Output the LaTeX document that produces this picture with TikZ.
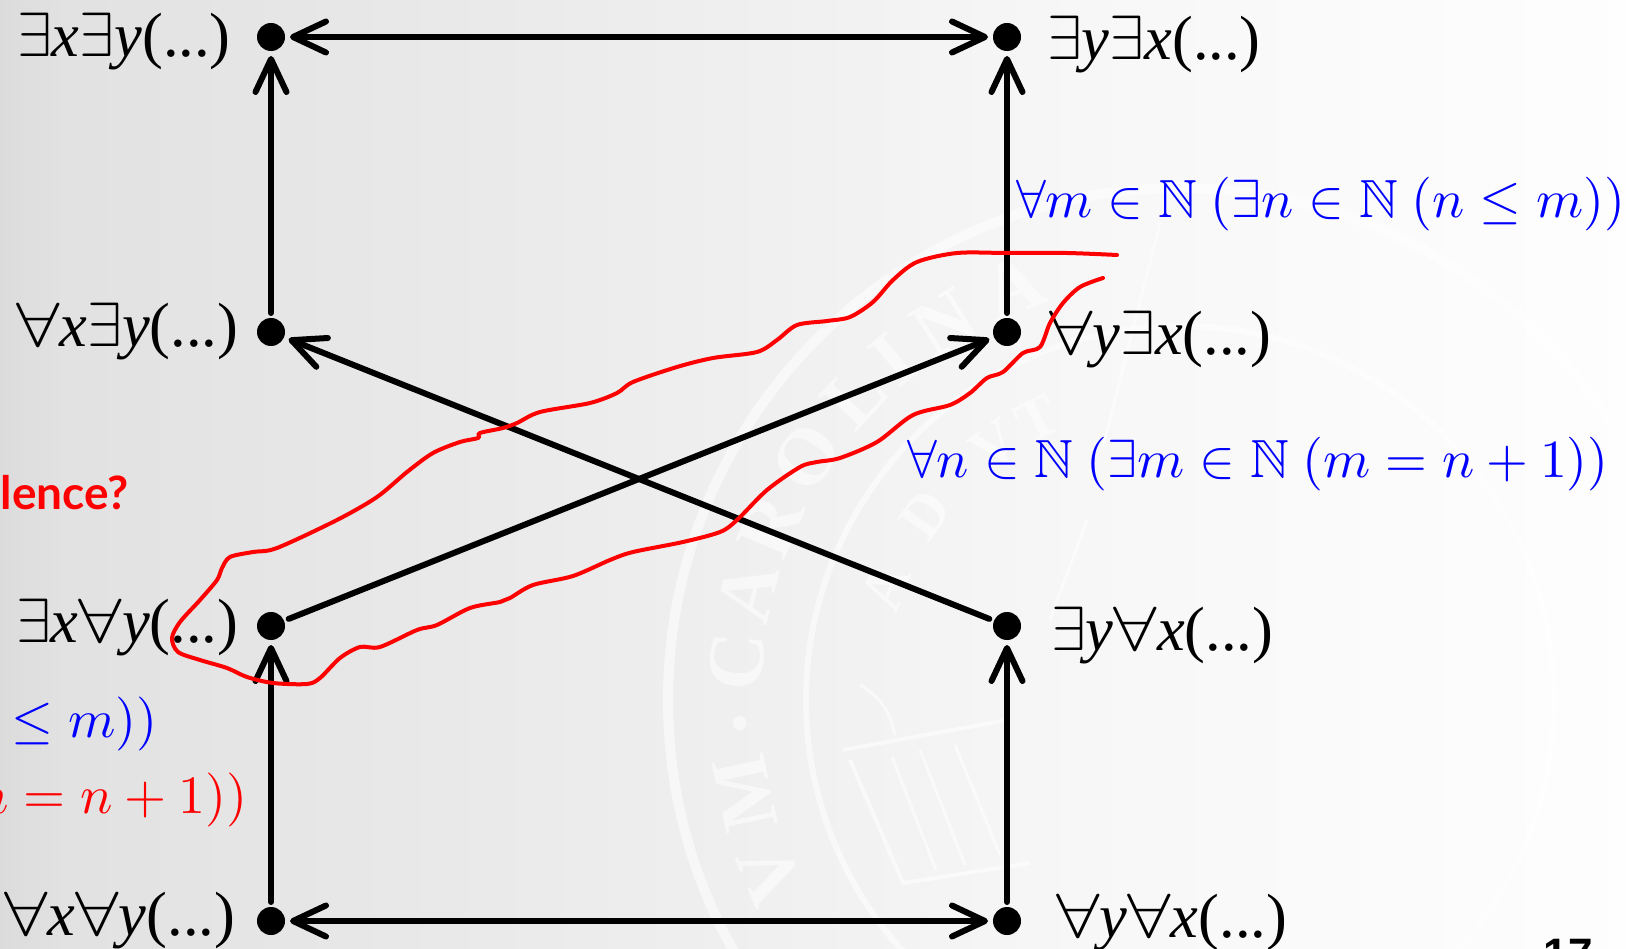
\documentclass[tikz,border=0pt]{standalone}
\usepackage[no-math]{fontspec}
\usepackage{amssymb}
\usepackage{graphicx}
\setmainfont{Liberation Serif}
\newfontfamily\quantfont{Liberation Serif}
\newfontfamily\remarkfont{Lato}
\newfontfamily\pagefont{Liberation Sans}
\usetikzlibrary{arrows.meta}
\newcommand{\qall}{\scalebox{1.25}[1]{$\forall$}}
\newcommand{\qex}{$\exists$}
\pgfdeclarehorizontalshading{slidebg}{100bp}{
  color(0bp)=(black!14);
  color(25bp)=(black!14);
  color(26.9bp)=(black!11.5);
  color(37.3bp)=(black!9);
  color(46.5bp)=(black!6.5);
  color(58.8bp)=(black!3);
  color(75bp)=(black!0.5);
  color(100bp)=(black!0.5)}
\tikzset{
  dotpt/.style={circle,fill=black,minimum size=28pt,inner sep=0pt,outer sep=5pt},
  quant/.style={anchor=base west,inner sep=0pt,scale=6.25,font=\quantfont},
  formula/.style={anchor=base west,inner sep=0pt,scale=5.37,text=blue},
  cutoff/.style={anchor=base east,inner sep=0pt,scale=5.4},
  sealline/.style={draw=white,opacity=0.55},
  sealletter/.style={inner sep=0pt,text=white,opacity=0.55,font=\quantfont\bfseries},
  link/.style={line width=6pt,line cap=round,>={Straight Barb[length=33pt,width=31pt,round]}},
  lasso/.style={draw=red,line width=4pt,line cap=round}
}
\begin{document}
\begin{tikzpicture}[x=1pt,y=-1pt]
        \useasboundingbox (0,0) rectangle (1626,949);
        \shade [shading=slidebg] (0,0) rectangle (1626,949);
        \begin{scope}
            \clip (0,0) rectangle (1626,949);
            \begin{scope}[shift={(1180,700)}]
                \draw [sealline,line width=10pt] (0,0) circle (512);
                \draw [sealline,line width=6pt] (0,0) circle (374);
                \fill [white,opacity=0.55] (177:441) circle (7);
                \foreach \a/\t in {157/V,168/M,185/C,194/A,203/R,213/O,223/L,230/I,238/N,248/A}
                    {\node [sealletter,scale=8,rotate=270-\a] at (\a:445) {\t};}
                \foreach \a/\t in {201/A,216/D,234/V,243/T}
                    {\node [sealletter,scale=6,rotate=270-\a] at (\a:315) {\t};}
            \end{scope}
            \draw [sealline,line width=4pt] (850,760) -- (903,883) -- (1030,863);
            \draw [sealline,line width=4pt] (843,750) -- (1007,720);
            \draw [sealline,line width=3pt] (860,685) .. controls (885,700) and (890,715) .. (895,735);
            \draw [sealline,line width=3pt] (892,757) -- (936,870);
            \draw [sealline,line width=3pt] (920,750) -- (965,865);
            \draw [sealline,line width=3pt] (955,745) -- (1000,855);
            \draw [sealline,line width=3pt] (1160,223) -- (1103,447);
            \draw [sealline,line width=3pt] (1087,520) -- (1050,620);
        \end{scope}
        \foreach \name/\x/\y in {exey/271/37,axey/271/332,exay/271/626,axay/271/921,eyex/1007/37,ayex/1007/332,eyax/1007/626,ayax/1007/921}
            {\node [dotpt] (\name) at (\x,\y) {};}
        \draw [link,->] (axay) -- (exay);
        \draw [link,->] (axey) -- (exey);
        \draw [link,->] (ayax) -- (eyax);
        \draw [link,->] (ayex) -- (eyex);
        \draw [link,<->] (exey) -- (eyex);
        \draw [link,<->] (axay) -- (ayax);
        \draw [link,->] (exay) -- (ayex);
        \draw [link,->] (eyax) -- (axey);
        \node [quant] (lexey) at (16,57) {\qex\textit{x}\qex\textit{y}(...)};
        \node [quant] (laxey) at (15,347) {\qall\textit{x}\qex\textit{y}(...)};
        \node [quant] (lexay) at (15,642) {\qex\textit{x}\qall\textit{y}(...)};
        \node [quant] (laxay) at (3,935) {\qall\textit{x}\qall\textit{y}(...)};
        \node [quant] (leyex) at (1046,60) {\qex\textit{y}\qex\textit{x}(...)};
        \node [quant] (layex) at (1048,355) {\qall\textit{y}\qex\textit{x}(...)};
        \node [quant] (leyax) at (1050,650) {\qex\textit{y}\qall\textit{x}(...)};
        \node [quant] (layax) at (1055,937) {\qall\textit{y}\qall\textit{x}(...)};
        \node [formula] (fmax) at (1015,218) {$\forall m\in\mathbb{N}\ (\exists n\in\mathbb{N}\ (n\leq m))$};
        \node [formula] (fsucc) at (906,478) {$\forall n\in\mathbb{N}\ (\exists m\in\mathbb{N}\ (m=n+1))$};
        \node [cutoff,text=blue] (fleft) at (159,737) {$\leq m))$};
        \node [cutoff,text=red] (fright) at (249,813) {$m=n+1))$};
        \node [anchor=base east,inner sep=0pt,text=red,scale=4.6,font=\remarkfont\bfseries] (quest) at (130,510) {alence?};
        \node [anchor=base west,inner sep=0pt,scale=4.4,font=\pagefont\bfseries] (pageno) at (1543,969) {17};
        \draw [lasso] plot [smooth,tension=0.5] coordinates {(1117,255) (1067,253) (1007,253) (957,253) (917,262) (893,280) (873,302) (850,317) (827,321) (797,325) (777,340) (757,352) (713,358) (677,367) (633,382) (617,393) (590,403) (540,412) (517,423) (503,428) (480,433) (478,438) (460,442) (433,453) (407,472) (377,497) (337,520) (277,548) (253,552) (230,557) (222,568) (217,580) (200,600) (180,622) (172,638) (178,652) (200,660) (227,668) (247,677) (273,683) (307,684) (320,678) (340,658) (360,647) (380,647) (417,630) (437,625) (470,608) (500,602) (510,598) (533,585) (573,576) (610,560) (633,552) (683,542) (720,532) (737,520) (767,490) (800,467) (817,462) (840,458) (877,442) (913,415) (950,405) (970,393) (987,378) (1003,372) (1023,353) (1040,347) (1050,323) (1063,303) (1080,287) (1103,278)};
    \end{tikzpicture}
\end{document}
